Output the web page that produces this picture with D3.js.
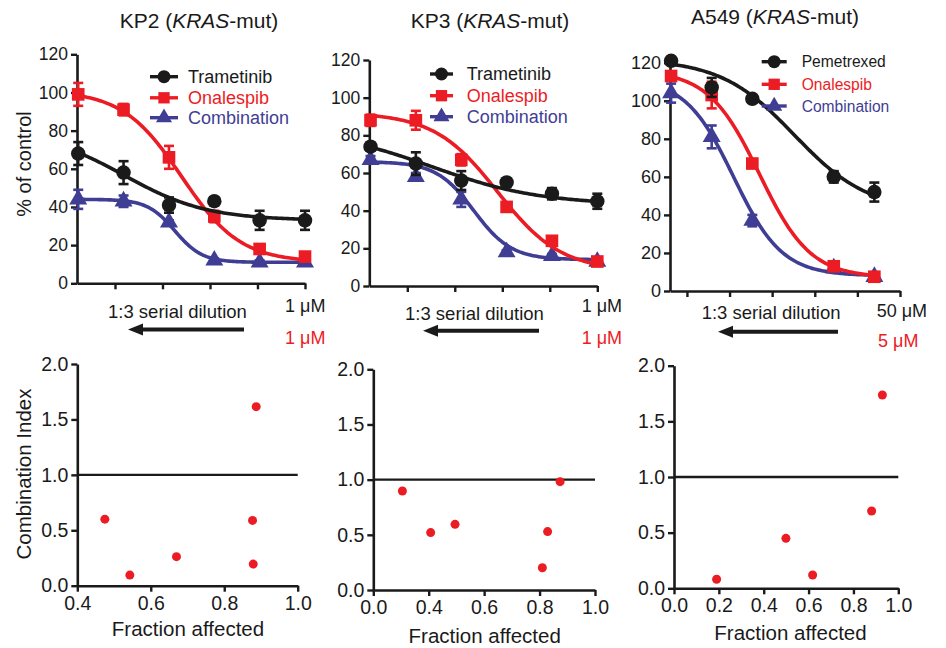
<!DOCTYPE html>
<html>
<head>
<meta charset="utf-8">
<script src="https://cdn.jsdelivr.net/npm/d3@7"></script>
<style>
body { margin: 0; background: #fff; }
svg text { font-family: "Liberation Sans", Arial, Helvetica, sans-serif; }
</style>
</head>
<body>
<svg id="fig" width="946" height="648"></svg>
<script>
// doses in uM, 1:3 serial dilution
var kpDoses = [0.0041, 0.0123, 0.037, 0.111, 0.333, 1];
var kpDoseTicks = [0.01, 0.0316, 0.1, 0.316, 1];
var a549Doses = [0.206, 0.617, 1.85, 16.7, 50];
var a549DoseTicks = [0.316, 1, 3.16, 10, 31.6, 100];

// % of control (mean, error)
var kp2Tram = [68, 58, 41, 43, 33, 33];
var kp2TramErr = [6, 6, 4, 2, 5, 5];
var kp2Onal = [99, 91, 66, 35, 18, 14];
var kp2OnalErr = [6, 3, 6, 3, 2, 2];
var kp2Comb = [44, 43, 32, 12, 11, 11];
var kp2CombErr = [5, 3, 1, 1, 1, 1];

var kp3Tram = [74, 65, 56, 55, 49, 45];
var kp3TramErr = [2, 6, 5, 2, 3, 4];
var kp3Onal = [88, 88, 67, 42, 24, 13];
var kp3OnalErr = [3, 5, 3, 2, 2, 2];
var kp3Comb = [67, 58, 46, 18, 16, 13];
var kp3CombErr = [2, 2, 4, 1, 1, 1];

var a549Pem = [121, 107, 101, 60, 52];
var a549PemErr = [2, 5, 2, 3, 5];
var a549Onal = [113, 103, 67, 13, 7.5];
var a549OnalErr = [2, 7, 2, 2, 1.5];
var a549Comb = [104, 81, 37, 12, 7.5];
var a549CombErr = [5, 6, 3, 1, 1];

// fitted curves: [top, bottom, logEC50, hill]
var kp2TramFit = [80, 33, -1.9, 1.0];
var kp2OnalFit = [101, 11, -1.3, 1.4];
var kp2CombFit = [44, 11, -1.37, 3];
var kp3TramFit = [84, 43, -1.75, 0.75];
var kp3OnalFit = [92, 8, -1.05, 1.3];
var kp3CombFit = [66, 14, -1.3, 2.2];
var a549PemFit = [122, 42, 0.76, 1.0];
var a549OnalFit = [116, 7, 0.35, 1.45];
var a549CombFit = [112, 8, 0.047, 1.525];

var pctTicks = [0, 20, 40, 60, 80, 100, 120];

// combination index vs fraction affected
var kp2Fa = [0.475, 0.543, 0.670, 0.877, 0.879, 0.887];
var kp2CI = [0.60, 0.096, 0.262, 0.589, 0.195, 1.615];
var kp3Fa = [0.305, 0.407, 0.495, 0.810, 0.829, 0.874];
var kp3CI = [0.897, 0.52, 0.595, 0.202, 0.529, 0.982];
var a549Fa = [0.19, 0.499, 0.618, 0.881, 0.929];
var a549CI = [0.081, 0.449, 0.12, 0.695, 1.737];

var ciTicks = [0, 0.5, 1, 1.5, 2];
var ciTickLabels = ["0.0", "0.5", "1.0", "1.5", "2.0"];
var kp2FaTicks = [0.4, 0.6, 0.8, 1.0];
var kp2FaLabels = ["0.4", "0.6", "0.8", "1.0"];
var kp3FaTicks = [0.2, 0.4, 0.6, 0.8, 1.0];
var kp3FaLabels = ["0.0", "0.4", "0.6", "0.8", "1.0"];
var a549FaTicks = [0, 0.2, 0.4, 0.6, 0.8, 1.0];
var a549FaLabels = ["0.0", "0.2", "0.4", "0.6", "0.8", "1.0"];

var BLACK = "#1a1a1a", RED = "#ec1c24", BLUE = "#3f3e94";

var svg = d3.select("#fig");

function logistic(p, dose) {
    var x = Math.log10(dose);
    return p[1] + (p[0] - p[1]) / (1 + Math.pow(10, (x - p[2]) * p[3]));
}

function styleAxis(g, size) {
    g.select(".domain").attr("stroke", BLACK).attr("stroke-width", 2.6);
    g.selectAll(".tick line").attr("stroke", BLACK).attr("stroke-width", 2.4);
    g.selectAll(".tick text").attr("fill", BLACK).attr("font-size", size);
    g.attr("font-family", null);
}

function marker(shape, scale) {
    var k = scale || 1;
    if (shape == "circle") return d3.symbol().type(d3.symbolCircle).size(165 * k)();
    if (shape == "square") return d3.symbol().type(d3.symbolSquare).size(160 * k)();
    return d3.symbol().type(d3.symbolTriangle).size(140 * k)();
}

function drawDosePanel(cfg) {
    var x = d3.scaleLog().domain(cfg.xDomain).range([cfg.x0, cfg.x1]);
    var y = d3.scaleLinear().domain([0, 120]).range([cfg.yb, cfg.yt]);
    var g = svg.append("g");

    var yAxis = g.append("g")
        .attr("transform", "translate(" + cfg.x0 + ",0)")
        .call(d3.axisLeft(y).tickValues(pctTicks).tickSize(6).tickPadding(3).tickSizeOuter(0));
    styleAxis(yAxis, cfg.tickFont);

    var xAxis = g.append("g")
        .attr("transform", "translate(0," + cfg.yb + ")")
        .call(d3.axisBottom(x).tickValues(cfg.xTicks).tickFormat("").tickSize(6).tickSizeOuter(0));
    styleAxis(xAxis, cfg.tickFont);

    // combination drawn first so the single agents sit on top, as in the original
    cfg.series.slice().reverse().forEach(function(s) {
        var lo = Math.log10(cfg.doses[0]), hi = Math.log10(cfg.doses[cfg.doses.length - 1]);
        var pts = d3.range(0, 121).map(function(i) { return Math.pow(10, lo + (hi - lo) * i / 120); });
        var line = d3.line()
            .x(function(d) { return x(d); })
            .y(function(d) { return y(logistic(s.fit, d)); });
        g.append("path")
            .attr("d", line(pts))
            .attr("fill", "none")
            .attr("stroke", s.color)
            .attr("stroke-width", 3.6);

        var bars = g.append("g").attr("stroke", s.color).attr("stroke-width", 2.6);
        s.values.forEach(function(v, i) {
            var cx = x(cfg.doses[i]);
            bars.append("line").attr("x1", cx).attr("x2", cx)
                .attr("y1", y(v - s.err[i])).attr("y2", y(v + s.err[i]));
            [v - s.err[i], v + s.err[i]].forEach(function(e) {
                bars.append("line").attr("x1", cx - 5).attr("x2", cx + 5)
                    .attr("y1", y(e)).attr("y2", y(e));
            });
        });

        g.selectAll(null).data(s.values).enter().append("path")
            .attr("d", marker(s.shape))
            .attr("fill", s.color)
            .attr("transform", function(d, i) { return "translate(" + x(cfg.doses[i]) + "," + y(d) + ")"; });
    });

    // legend
    cfg.series.forEach(function(s, i) {
        var ly = cfg.legend.rows[i];
        g.append("line")
            .attr("x1", cfg.legend.x0).attr("x2", cfg.legend.x1)
            .attr("y1", ly).attr("y2", ly)
            .attr("stroke", s.color).attr("stroke-width", 3.4);
        g.append("path")
            .attr("d", marker(s.shape, 0.8))
            .attr("fill", s.color)
            .attr("transform", "translate(" + (cfg.legend.x0 + cfg.legend.x1) / 2 + "," + ly + ")");
        g.append("text")
            .attr("x", cfg.legend.tx).attr("y", ly + cfg.legend.size * 0.36)
            .attr("font-size", cfg.legend.size)
            .attr("fill", s.color)
            .text(s.name);
    });

    // title
    var t = g.append("text")
        .attr("x", cfg.title.x).attr("y", cfg.title.y)
        .attr("text-anchor", "middle")
        .attr("font-size", 21)
        .attr("fill", BLACK);
    t.append("tspan").text(cfg.title.cell + " (");
    t.append("tspan").attr("font-style", "italic").text("KRAS");
    t.append("tspan").text("-mut)");

    // dilution note
    g.append("text").attr("x", cfg.note.x).attr("y", cfg.note.y)
        .attr("font-size", 18.5).attr("fill", BLACK).text("1:3 serial dilution");
    g.append("text").attr("x", cfg.top1.x).attr("y", cfg.top1.y)
        .attr("font-size", 18).attr("fill", BLACK).text(cfg.top1.text);
    g.append("text").attr("x", cfg.top2.x).attr("y", cfg.top2.y)
        .attr("font-size", 18).attr("fill", RED).text(cfg.top2.text);

    var a = cfg.arrow;
    g.append("line")
        .attr("x1", a.tail).attr("x2", a.tip + 12)
        .attr("y1", a.y).attr("y2", a.y)
        .attr("stroke", BLACK).attr("stroke-width", 4);
    g.append("path")
        .attr("d", "M" + a.tip + "," + a.y + "L" + (a.tip + 15) + "," + (a.y - 6) + "L" + (a.tip + 15) + "," + (a.y + 6) + "Z")
        .attr("fill", BLACK);
}

function drawCIPanel(cfg) {
    var x = d3.scaleLinear().domain(cfg.xDomain).range([cfg.x0, cfg.x1]);
    var y = d3.scaleLinear().domain([0, 2]).range([cfg.yb, cfg.yt]);
    var g = svg.append("g");

    var yAxis = g.append("g")
        .attr("transform", "translate(" + cfg.x0 + ",0)")
        .call(d3.axisLeft(y).tickValues(ciTicks)
            .tickFormat(function(d, i) { return ciTickLabels[i]; })
            .tickSize(6).tickPadding(3).tickSizeOuter(0));
    styleAxis(yAxis, 19.5);

    var xAxis = g.append("g")
        .attr("transform", "translate(0," + cfg.yb + ")")
        .call(d3.axisBottom(x).tickValues(cfg.ticks)
            .tickFormat(function(d, i) { return cfg.labels[i]; })
            .tickSize(6).tickPadding(4).tickSizeOuter(0));
    styleAxis(xAxis, 19.5);

    g.append("line")
        .attr("x1", cfg.x0).attr("x2", cfg.x1)
        .attr("y1", y(1)).attr("y2", y(1))
        .attr("stroke", BLACK).attr("stroke-width", 2.4);

    g.selectAll("circle").data(cfg.fa).enter().append("circle")
        .attr("cx", function(d) { return x(d); })
        .attr("cy", function(d, i) { return y(cfg.ci[i]); })
        .attr("r", 4.5)
        .attr("fill", RED);

    g.append("text")
        .attr("x", cfg.titleX).attr("y", cfg.titleY)
        .attr("text-anchor", "middle")
        .attr("font-size", 20.5).attr("fill", BLACK)
        .text("Fraction affected");
}

drawDosePanel({
    x0: 77, x1: 305, yb: 283.3, yt: 54.3,
    xDomain: [0.00398, 1], doses: kpDoses, xTicks: kpDoseTicks, tickFont: 17.5,
    series: [
        { name: "Trametinib", values: kp2Tram, err: kp2TramErr, fit: kp2TramFit, color: BLACK, shape: "circle" },
        { name: "Onalespib", values: kp2Onal, err: kp2OnalErr, fit: kp2OnalFit, color: RED, shape: "square" },
        { name: "Combination", values: kp2Comb, err: kp2CombErr, fit: kp2CombFit, color: BLUE, shape: "triangle" }
    ],
    legend: { x0: 150, x1: 178, tx: 188, rows: [76.7, 97.8, 117.7], size: 18 },
    title: { cell: "KP2", x: 199, y: 28 },
    note: { x: 108, y: 318 },
    top1: { text: "1 \u03bcM", x: 285, y: 311.5 },
    top2: { text: "1 \u03bcM", x: 285, y: 343.5 },
    arrow: { tip: 128, tail: 244, y: 329.5 }
});

drawDosePanel({
    x0: 369.3, x1: 597.3, yb: 286, yt: 60,
    xDomain: [0.00398, 1], doses: kpDoses, xTicks: kpDoseTicks, tickFont: 17.5,
    series: [
        { name: "Trametinib", values: kp3Tram, err: kp3TramErr, fit: kp3TramFit, color: BLACK, shape: "circle" },
        { name: "Onalespib", values: kp3Onal, err: kp3OnalErr, fit: kp3OnalFit, color: RED, shape: "square" },
        { name: "Combination", values: kp3Comb, err: kp3CombErr, fit: kp3CombFit, color: BLUE, shape: "triangle" }
    ],
    legend: { x0: 430, x1: 453, tx: 466.7, rows: [74, 95.7, 116.7], size: 18 },
    title: { cell: "KP3", x: 490, y: 28 },
    note: { x: 405, y: 320 },
    top1: { text: "1 \u03bcM", x: 581.7, y: 311.5 },
    top2: { text: "1 \u03bcM", x: 581.7, y: 344 },
    arrow: { tip: 423, tail: 539, y: 330.7 }
});

drawDosePanel({
    x0: 670, x1: 900, yb: 291, yt: 62.7,
    xDomain: [0.2, 100], doses: a549Doses, xTicks: a549DoseTicks, tickFont: 18,
    series: [
        { name: "Pemetrexed", values: a549Pem, err: a549PemErr, fit: a549PemFit, color: BLACK, shape: "circle" },
        { name: "Onalespib", values: a549Onal, err: a549OnalErr, fit: a549OnalFit, color: RED, shape: "square" },
        { name: "Combination", values: a549Comb, err: a549CombErr, fit: a549CombFit, color: BLUE, shape: "triangle" }
    ],
    legend: { x0: 761.7, x1: 786.7, tx: 801.7, rows: [61.7, 84.3, 106], size: 15.6 },
    title: { cell: "A549", x: 775, y: 24 },
    note: { x: 701.7, y: 319 },
    top1: { text: "50 \u03bcM", x: 876.7, y: 316.5 },
    top2: { text: "5 \u03bcM", x: 878, y: 346.5 },
    arrow: { tip: 718, tail: 838, y: 331.7 }
});

svg.append("text")
    .attr("transform", "translate(31,164) rotate(-90)")
    .attr("text-anchor", "middle")
    .attr("font-size", 20).attr("fill", BLACK)
    .text("% of control");

drawCIPanel({
    x0: 77.3, x1: 297.7, yb: 585.7, yt: 364,
    xDomain: [0.4, 1], ticks: kp2FaTicks, labels: kp2FaLabels,
    fa: kp2Fa, ci: kp2CI, titleX: 188, titleY: 636
});
drawCIPanel({
    x0: 373.3, x1: 595, yb: 590, yt: 369.3,
    xDomain: [0.2, 1], ticks: kp3FaTicks, labels: kp3FaLabels,
    fa: kp3Fa, ci: kp3CI, titleX: 484.7, titleY: 643
});
drawCIPanel({
    x0: 674, x1: 898.3, yb: 588.3, yt: 365.7,
    xDomain: [0, 1], ticks: a549FaTicks, labels: a549FaLabels,
    fa: a549Fa, ci: a549CI, titleX: 790.5, titleY: 640
});

svg.append("text")
    .attr("transform", "translate(31,474) rotate(-90)")
    .attr("text-anchor", "middle")
    .attr("font-size", 20.5).attr("fill", BLACK)
    .text("Combination Index");
</script>
</body>
</html>
